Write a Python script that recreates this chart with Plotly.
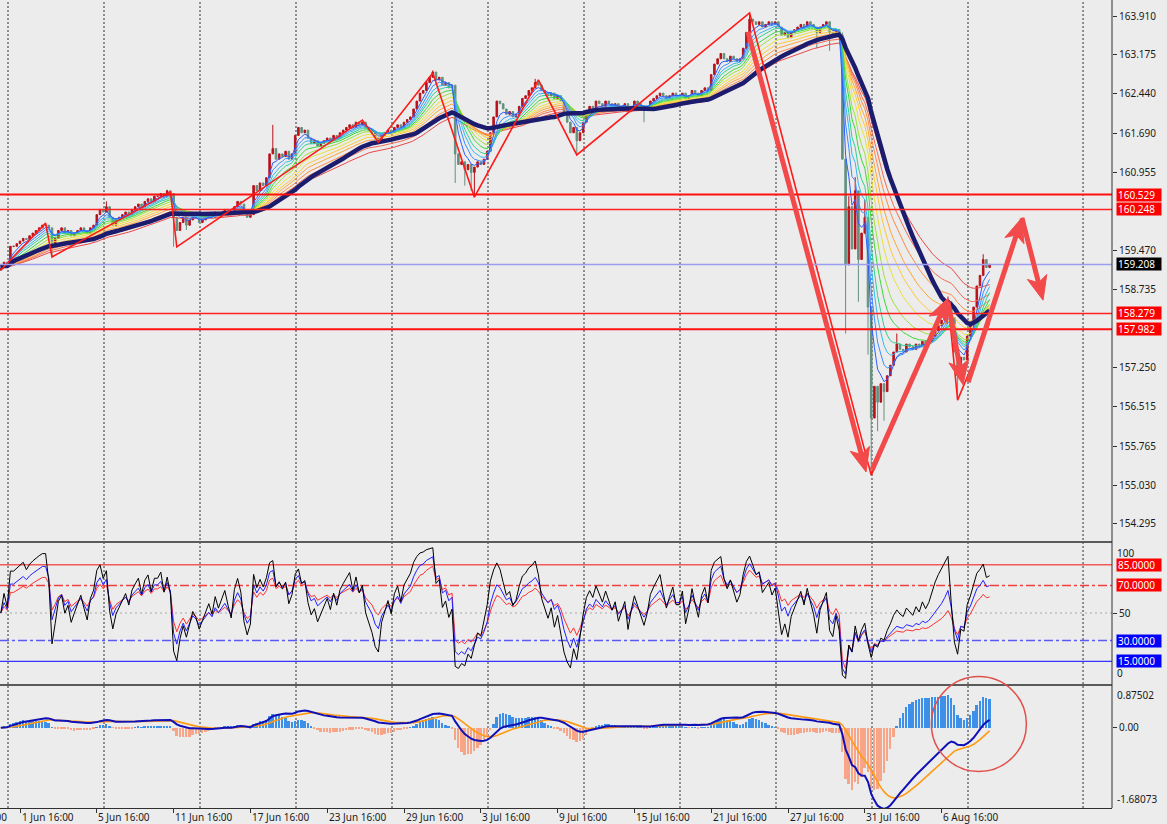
import numpy as np
import pandas as pd
import plotly.graph_objects as go

# ---------------- data ----------------
closes = [
 159.15,159.25,159.20,159.55,159.55,159.60,159.65,159.70,159.68,159.75,
 159.80,159.85,159.90,159.95,159.95,159.90,159.60,159.70,159.85,159.90,
 159.80,159.85,159.75,159.80,159.85,159.90,159.85,159.80,159.90,159.95,
 160.15,160.25,160.20,160.30,160.10,159.95,160.05,160.10,160.15,160.20,
 160.15,160.25,160.30,160.35,160.30,160.40,160.45,160.40,160.50,160.50,
 160.55,160.50,160.60,160.55,160.10,159.85,160.00,160.10,159.95,160.05,
 160.15,160.10,160.00,160.05,160.10,160.15,160.10,160.20,160.15,160.20,
 160.25,160.20,160.15,160.30,160.40,160.35,160.20,160.10,160.15,160.70,
 160.60,160.75,160.70,160.85,161.30,161.40,161.20,161.30,161.25,161.35,
 161.20,161.30,161.65,161.80,161.70,161.75,161.60,161.50,161.55,161.45,
 161.50,161.55,161.60,161.55,161.65,161.60,161.70,161.75,161.80,161.85,
 161.80,161.90,161.85,161.90,161.80,161.75,161.70,161.60,161.55,161.65,
 161.70,161.75,161.70,161.80,161.85,161.80,161.90,161.95,162.00,162.15,
 162.30,162.45,162.50,162.65,162.75,162.85,162.70,162.75,162.60,162.65,
 162.55,162.60,161.30,161.10,161.15,161.00,161.10,160.95,161.05,161.15,
 161.10,161.20,161.35,161.70,162.00,162.30,162.25,162.15,162.05,162.10,
 162.00,162.05,162.20,162.35,162.40,162.50,162.55,162.65,162.60,162.50,
 162.45,162.40,162.45,162.35,162.40,162.30,162.10,161.90,161.70,161.80,
 161.55,161.70,161.90,162.10,162.20,162.15,162.30,162.25,162.20,162.30,
 162.25,162.20,162.25,162.15,162.20,162.25,162.10,162.20,162.30,162.25,
 162.20,162.15,162.20,162.30,162.35,162.40,162.45,162.40,162.35,162.40,
 162.45,162.40,162.40,162.45,162.35,162.40,162.50,162.45,162.40,162.50,
 162.55,162.50,162.80,163.00,163.10,163.20,163.10,163.05,163.15,163.10,
 163.05,163.10,163.30,163.60,163.85,163.80,163.75,163.80,163.70,163.75,
 163.80,163.75,163.80,163.70,163.55,163.60,163.50,163.60,163.65,163.70,
 163.75,163.70,163.80,163.75,163.70,163.60,163.70,163.75,163.80,163.60,
 163.55,163.65,163.55,161.20,159.20,160.30,159.50,160.60,159.30,159.80,
 160.10,158.40,156.30,156.90,156.60,156.95,156.80,157.10,157.30,157.55,
 157.70,157.60,157.55,157.70,157.65,157.60,157.70,157.65,157.75,157.70,
 157.75,157.85,157.95,158.05,158.15,158.30,158.50,158.20,157.55,157.10,
 157.45,157.40,157.85,158.05,158.40,158.80,159.00,159.30,159.15,159.21,
]
first_open = 159.10
wick_high = {33: 160.40, 52: 160.62, 85: 161.85, 135: 162.88, 167: 162.72, 234: 163.97,
             263: 163.60, 265: 160.50, 267: 160.86, 270: 160.43, 280: 157.90, 296: 158.60, 307: 159.40}
wick_low = {16: 159.35, 54: 159.54, 58: 159.86, 142: 160.75, 145: 160.70, 147: 160.60, 148: 160.48,
            180: 161.28, 201: 161.90, 255: 163.30, 259: 163.25, 264: 157.90, 268: 158.50, 271: 157.50,
            272: 155.22, 274: 156.05, 276: 156.25, 299: 156.64}

x_label_text = ['1 Jun 16:00', '5 Jun 16:00', '11 Jun 16:00', '17 Jun 16:00', '23 Jun 16:00',
                '29 Jun 16:00', '3 Jul 16:00', '9 Jul 16:00', '15 Jul 16:00', '21 Jul 16:00',
                '27 Jul 16:00', '31 Jul 16:00', '6 Aug 16:00']
x_label_idx = [6, 30, 54, 78, 102, 126, 150, 174, 198, 222, 246, 270, 294]
prev_label = '26 May 16:00'
grid_idx = [2.25, 32.25, 62.25, 92.25, 122.25, 152.25, 182.25, 212.25, 242.25, 272.25, 302.25, 338.2]

price_ticks = [163.910, 163.175, 162.440, 161.690, 160.955, 159.470, 158.735,
               157.250, 156.515, 155.765, 155.030, 154.295]
price_levels = [160.529, 160.248, 159.208, 158.279, 157.982]
level_colors = ['#ff1010', '#ff2020', '#9c9cf0', '#ff2020', '#ff1010']
level_widths = [2, 1.6, 1.5, 1.6, 2]
level_box = ['#ff0000', '#ff0000', '#000000', '#ff0000', '#ff0000']

rsi_levels = [85, 70, 50, 30, 15]
rsi_level_colors = ['#f25a5a', '#f04040', '#a8a8a8', '#5a5af5', '#3535ff']
rsi_level_dash = ['solid', 'dashdot', '2px,3px', 'dashdot', 'solid']
rsi_level_width = [1.5, 1.5, 1, 1.5, 1.2]
rsi_box = {85: '#ff0000', 70: '#ff0000', 30: '#0000ff', 15: '#0000ff'}

macd_top, macd_bot = 0.87502, -1.68073

zz_idx = [0, 14, 16, 53, 55, 113, 118, 135, 148, 168, 180, 234, 272, 296, 299, 309]
zz_price = [159.10, 159.99, 159.35, 160.58, 159.54, 161.94, 161.52, 162.83, 160.48,
            162.70, 161.28, 163.97, 155.22, 158.53, 156.64, 158.10]

arrows = [  # (start idx, start price, tip idx, tip price)
    (233.5, 163.61, 270.4, 155.28),
    (272.3, 155.32, 296.0, 158.57),
    (296.0, 158.50, 300.7, 156.93),
    (302.3, 156.98, 319.1, 160.09),
    (319.1, 160.09, 325.7, 158.53),
]

ribbon_periods = [4, 6, 8, 10, 13, 16, 20, 24, 28, 33, 38, 45]
ribbon_colors = ['#2b5cff', '#3c8cff', '#35b8f0', '#30d090', '#3ad83a', '#9ee03a',
                 '#e8e23a', '#ffc83a', '#ffa53a', '#ff8a45', '#f46a50', '#e84848']
navy_sma, navy_ema = 32, 40
hist_scale = 2.6

# ---------------- geometry ----------------
W, H = 1167, 824
ML, MR, MT, MB = 0, 55, 0, 16
PW, PH = W - ML - MR, H - MT - MB          # 1112 x 808
BAR_PX, X0_PX = 3.2, 0.8
XR = [(0 - X0_PX) / BAR_PX, (PW - X0_PX) / BAR_PX]
PX_PER_P = 52.83
YR = [163.910 - (541 - 16) / PX_PER_P, 163.910 + 16 / PX_PER_P]
def pfrac(ypx):
    return (PH - ypx) / PH
dom_main = [pfrac(541), 1.0]
dom_rsi = [pfrac(682), pfrac(544)]
dom_macd = [0.0, pfrac(686)]

# ---------------- derived series ----------------
c = pd.Series(closes, dtype=float)
n = len(c)
idx = np.arange(n)
opens = np.r_[first_open, c.values[:-1]]
highs = np.maximum(opens, c.values)
lows = np.minimum(opens, c.values)
for k, v in wick_high.items():
    highs[k] = max(highs[k], v)
for k, v in wick_low.items():
    lows[k] = min(lows[k], v)

def ema(s, p):
    return s.ewm(span=p, adjust=False).mean()

def rsi(s, p):
    d = s.diff().fillna(0).values
    seed = np.abs(d[1:11]).mean() / 2
    ag, al = seed, seed
    out = []
    for v in d:
        ag = (ag * (p - 1) + max(v, 0)) / p
        al = (al * (p - 1) + max(-v, 0)) / p
        out.append(100 - 100 / (1 + ag / al) if al > 0 else 100)
    return np.array(out)

navy = 0.5 * c.rolling(navy_sma, min_periods=1).mean() + 0.5 * ema(c, navy_ema)
macd = ema(c, 12) - ema(c, 26)
signal = ema(macd, 9)
hist = hist_scale * (macd - signal)

fig = go.Figure()
for p, col in list(zip(ribbon_periods, ribbon_colors))[::-1]:
    fig.add_trace(go.Scatter(x=idx, y=ema(c, p), mode='lines', line=dict(color=col, width=1),
                             hoverinfo='skip', showlegend=False))
up, dn = '#b8121b', '#64907f'
fig.add_trace(go.Candlestick(x=idx, open=opens, high=highs, low=lows, close=c,
                             increasing=dict(line=dict(color=up, width=1), fillcolor=up),
                             decreasing=dict(line=dict(color=dn, width=1), fillcolor=dn),
                             whiskerwidth=0, showlegend=False, hoverinfo='skip'))
fig.add_trace(go.Scatter(x=idx, y=navy, mode='lines', line=dict(color='#1c1c6e', width=4.5),
                         hoverinfo='skip', showlegend=False))
fig.add_trace(go.Scatter(x=zz_idx, y=zz_price, mode='lines', line=dict(color='#ff1a1a', width=1.6),
                         hoverinfo='skip', showlegend=False))

# RSI
for p, col in [(14, '#ff3030'), (9, '#2020ff'), (5, '#000000')]:
    fig.add_trace(go.Scatter(x=idx, y=rsi(c, p), mode='lines', line=dict(color=col, width=1),
                             yaxis='y2', hoverinfo='skip', showlegend=False))

# MACD
hcol = ['#3d8fe8' if v >= 0 else '#f7a586' for v in hist]
fig.add_trace(go.Bar(x=idx, y=hist, width=0.62, marker=dict(color=hcol, line=dict(width=0)),
                     yaxis='y3', hoverinfo='skip', showlegend=False))
fig.add_trace(go.Scatter(x=idx, y=signal, mode='lines', line=dict(color='#ff9a10', width=1.6),
                         yaxis='y3', hoverinfo='skip', showlegend=False))
fig.add_trace(go.Scatter(x=idx, y=macd, mode='lines', line=dict(color='#1010b8', width=2),
                         yaxis='y3', hoverinfo='skip', showlegend=False))

shapes = []
for g in grid_idx:
    shapes.append(dict(type='line', xref='x', yref='paper', x0=g, x1=g, y0=0, y1=1,
                       line=dict(color='#303030', width=1, dash='2px,2px'), layer='below'))
for lv, col, wd in zip(price_levels, level_colors, level_widths):
    shapes.append(dict(type='line', xref='paper', yref='y', x0=0, x1=1, y0=lv, y1=lv,
                       line=dict(color=col, width=wd), layer='above'))
for lv, col, ds, wd in zip(rsi_levels, rsi_level_colors, rsi_level_dash, rsi_level_width):
    shapes.append(dict(type='line', xref='paper', yref='y2', x0=0, x1=1, y0=lv, y1=lv,
                       line=dict(color=col, width=wd, dash=ds), layer='below'))
# arrows
px_i = PW / (XR[1] - XR[0])
px_p = 541 / (YR[1] - YR[0])
acol = '#f24a4a'
for (i0, p0, i1, p1) in arrows:
    X0, Y0, X1, Y1 = i0 * px_i, -p0 * px_p, i1 * px_i, -p1 * px_p
    dx, dy = X1 - X0, Y1 - Y0
    L = np.hypot(dx, dy)
    ux, uy = dx / L, dy / L
    nx, ny = -uy, ux
    HL, HW = 24, 10
    bx, by = X1 - HL * ux, Y1 - HL * uy
    nbx, nby = X1 - 0.75 * HL * ux, Y1 - 0.75 * HL * uy
    shapes.append(dict(type='line', xref='x', yref='y', x0=i0, y0=p0,
                       x1=nbx / px_i, y1=-nby / px_p, line=dict(color=acol, width=5), layer='above'))
    pts = [(X1, Y1), (bx + HW * nx, by + HW * ny), (nbx, nby), (bx - HW * nx, by - HW * ny)]
    path = 'M ' + ' L '.join(f'{X / px_i:.4f},{-Y / px_p:.5f}' for X, Y in pts) + ' Z'
    shapes.append(dict(type='path', xref='x', yref='y', path=path, fillcolor=acol,
                       line=dict(color=acol, width=1), layer='above'))
# separators and borders
for ypx in (542, 685):
    shapes.append(dict(type='line', xref='paper', yref='paper', x0=0, x1=1, y0=pfrac(ypx), y1=pfrac(ypx),
                       line=dict(color='#5a5a5a', width=2), layer='above'))
shapes.append(dict(type='line', xref='paper', yref='paper', x0=1, x1=1, y0=0, y1=1,
                   line=dict(color='#303030', width=1), layer='above'))
# circle
shapes.append(dict(type='circle', xref='x', yref='paper', x0=290.8, x1=320.5,
                   y0=pfrac(771.5), y1=pfrac(676.5), line=dict(color='#e0504a', width=1.5)))

FONT = 'Noto Sans'
TXT = '#1a1a1a'
ann = []
xl = (PW + 4) / PW
for lv, bc in zip(price_levels, level_box):
    ann.append(dict(xref='paper', yref='y', x=xl, y=lv, xanchor='left', yanchor='middle',
                    text=f'{lv:.3f}', showarrow=False, bgcolor=bc, borderpad=1, width=42, height=10,
                    align='left', font=dict(family=FONT, size=10, color='white')))
for lv, bc in rsi_box.items():
    ann.append(dict(xref='paper', yref='y2', x=xl, y=lv, xanchor='left', yanchor='middle',
                    text=f'{lv:.4f}', showarrow=False, bgcolor=bc, borderpad=1, width=42, height=10,
                    align='left', font=dict(family=FONT, size=10, color='white')))
for txt, yy, ya, yanc in [('100', 100, 'y2', 'top'), ('0', 0, 'y2', 'bottom'),
                          (f'{macd_top:.5f}', macd_top, 'y3', 'top'), (f'{macd_bot:.5f}', macd_bot, 'y3', 'bottom')]:
    ann.append(dict(xref='paper', yref=ya, x=(PW + 3) / PW, y=yy, xanchor='left', yanchor=yanc,
                    text=txt, showarrow=False, font=dict(family=FONT, size=10, color=TXT)))
for t, i in zip(x_label_text, x_label_idx):
    ann.append(dict(xref='x', yref='paper', x=i - 0.1, y=-9 / PH, xanchor='left', yanchor='middle',
                    text=t, showarrow=False, font=dict(family=FONT, size=10, color=TXT)))
ann.append(dict(xref='paper', yref='paper', x=(X0_PX + (x_label_idx[0] - 24) * BAR_PX) / PW, y=-9 / PH,
                xanchor='left', yanchor='middle', text=prev_label, showarrow=False,
                font=dict(family=FONT, size=10, color=TXT)))

BG = '#ececec'
fig.update_layout(
    width=W, height=H, margin=dict(l=ML, r=MR, t=MT, b=MB),
    paper_bgcolor=BG, plot_bgcolor=BG, showlegend=False,
    font=dict(family=FONT, size=10, color=TXT),
    xaxis=dict(domain=[0, 1], range=XR, anchor='y3', showgrid=False, zeroline=False,
               showline=True, linecolor='#303030', linewidth=1, ticks='outside', ticklen=4,
               tickcolor='#303030', tickvals=x_label_idx, showticklabels=False,
               rangeslider=dict(visible=False), fixedrange=True),
    yaxis=dict(domain=dom_main, range=YR, side='right', anchor='x', showgrid=False, zeroline=False,
               ticks='outside', ticklen=4, tickcolor='#303030', tickvals=price_ticks,
               ticktext=[f'{v:.3f}' for v in price_ticks], tickfont=dict(family=FONT, size=10, color=TXT),
               fixedrange=True),
    yaxis2=dict(domain=dom_rsi, range=[0, 100], side='right', anchor='x', showgrid=False, zeroline=False,
                ticks='outside', ticklen=4, tickcolor='#303030', tickvals=[50], ticktext=['50'],
                tickfont=dict(family=FONT, size=10, color=TXT), fixedrange=True),
    yaxis3=dict(domain=dom_macd, range=[macd_bot, macd_top], side='right', anchor='x', showgrid=False,
                zeroline=False, ticks='outside', ticklen=4, tickcolor='#303030', tickvals=[0],
                ticktext=['0.00'], tickfont=dict(family=FONT, size=10, color=TXT), fixedrange=True),
    shapes=shapes, annotations=ann, bargap=0,
)
fig.write_html('out.html', config={'displayModeBar': False},
               post_script="document.body.style.margin='0';document.body.style.background='#ececec';"
                           "document.documentElement.style.overflow='hidden';")
